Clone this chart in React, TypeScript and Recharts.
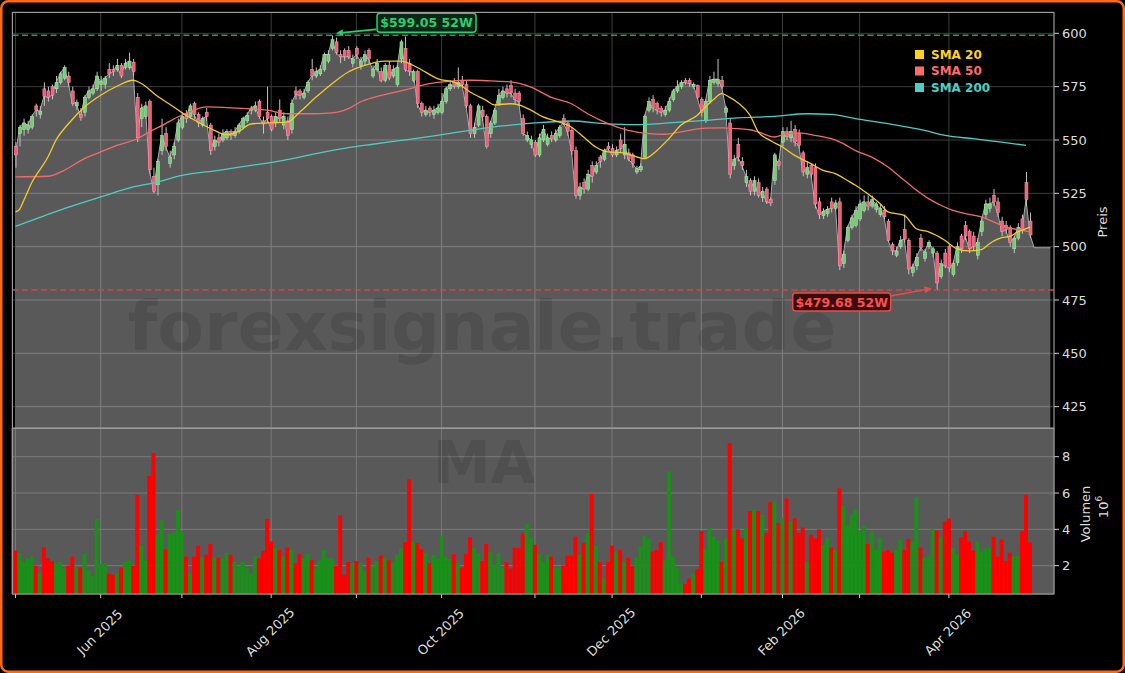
import React from 'react'
import { ComposedChart, Area, Line, Bar, Cell, XAxis, YAxis, CartesianGrid, ReferenceLine, ReferenceDot } from 'recharts'

const W = 1125
const H = 673
const FONT = '"DejaVu Sans", Verdana, sans-serif'

const MONTH_TICKS = [0, 21, 41, 63, 84, 105, 128, 147, 169, 189, 208, 230]
const MONTH_LABELS = ['', 'Jun 2025', '', 'Aug 2025', '', 'Oct 2025', '', 'Dec 2025', '', 'Feb 2026', '', 'Apr 2026']
const PRICE_TICKS = [425, 450, 475, 500, 525, 550, 575, 600]
const VOLUME_TICKS = [2, 4, 6, 8]

// daily candles, index 0 = first trading day of May 2025
const OPEN = [
  547, 553, 555, 555, 556, 566, 562, 574, 573, 575,
  574, 577, 579, 580, 573, 566, 562, 563, 570, 572,
  574, 576, 576, 583, 583, 583, 585, 584, 584, 586.5,
  570, 560, 561, 568, 533, 529, 545, 553, 539, 543,
  550, 556, 562, 561, 567, 562, 557, 563, 557, 547,
  551, 550, 551, 554, 552, 554, 556, 559, 564, 564,
  568, 559, 563, 561, 558, 564, 557, 559, 555, 573,
  573, 570, 573, 583, 580, 581, 583, 587, 593, 596,
  590, 592, 592, 586, 593, 585, 587, 592, 580, 583,
  582, 578, 585, 580, 576, 588, 593, 586, 578, 582,
  567, 562, 565, 562, 563, 563, 568, 574, 577, 575,
  578, 576, 566, 553, 557, 564, 561, 553, 558, 567,
  570, 574, 575.5, 572, 572, 560, 550, 548, 549, 543,
  550, 548, 552, 550, 552, 560, 558, 554.5, 545, 524,
  530, 527, 538, 535, 542, 541, 547, 546, 543, 550,
  543, 544, 543, 535, 536, 542, 564, 569, 567, 565,
  562, 564, 569, 573, 575, 578, 578, 575, 575.5, 569,
  559, 568, 577, 576.5, 578, 563, 558, 538, 548, 540,
  530, 531, 526, 530, 523, 527, 522, 531, 540, 549,
  554, 551, 555, 553, 544, 534, 538, 537, 521, 514.5,
  515.5, 521, 518, 521, 492, 503, 509, 510, 513, 517,
  521, 519, 517.5, 515, 517, 512, 501, 496, 500, 508,
  503, 488, 491, 504, 494.5, 500, 497, 497, 486, 497,
  500, 487, 492.5, 505, 510, 507, 505, 496, 507, 515,
  518, 524, 521, 512, 510, 509, 499, 504, 513, 530,
  512,
]
const HIGH = [
  549, 557, 560, 559, 562, 567, 566, 577, 575, 576,
  580, 582, 585, 582, 575, 569, 565, 571, 575, 576,
  582, 580, 580, 586, 585, 588, 586, 588, 591, 588,
  572, 567, 568, 569, 537, 541, 560, 556, 545, 549,
  560, 563, 564, 567, 568, 563, 561, 565, 558, 552,
  553, 555, 555, 555, 556, 558, 561, 563, 566, 568,
  569, 561, 575, 562, 563, 569, 563, 561, 569, 575,
  574, 574, 578, 588, 584, 585, 591, 592, 599.05, 598,
  592, 593, 594, 590, 594, 589, 592, 593, 585, 588,
  584, 586, 587, 585, 585, 597, 598.5, 588, 583, 583,
  568, 566, 566, 566, 567, 572, 575, 578, 579, 584,
  580, 578, 567, 558, 567, 566, 562, 559, 565, 574,
  575, 576, 578, 574, 573, 562, 554, 552, 550, 553,
  557, 553, 554, 555, 557, 562, 559, 556, 547, 530,
  532, 536, 540, 540, 543, 546, 549, 548, 547, 553,
  556, 546, 544, 538, 539, 562, 570, 571, 568, 566,
  566, 570, 574, 578, 578, 579, 579, 577, 576, 570,
  569, 580, 582, 588, 580, 566, 560, 543, 551, 542,
  536, 532, 533, 532, 528, 528, 523, 544, 541, 556,
  556, 559, 557, 555, 545, 540, 539, 539, 523, 518,
  519, 523, 522, 523, 498, 510, 515, 519, 522, 524,
  524, 524, 521, 520, 519, 513, 502, 500, 505, 515,
  504, 492, 497, 506, 499, 503, 500, 498, 494, 499,
  501, 493, 502, 506, 512, 508, 507, 504, 514, 522,
  523, 527, 523, 514, 512, 510, 505, 511, 515, 535,
  516,
]
const LOW = [
  537, 547, 552, 553, 555, 561, 560, 566, 568, 569,
  572, 576, 578, 575, 566, 564, 559, 561, 569, 571,
  573, 573, 574, 579, 580, 582, 579, 583, 583, 580,
  549, 556, 560, 534, 525, 524, 543, 545, 537, 541,
  549, 555, 558, 560, 560, 556, 556, 559, 543, 545,
  547, 549, 550, 550, 551, 553, 555, 558, 562, 563,
  560, 553, 558, 554, 556, 558, 555, 550, 553, 569,
  569, 569, 572, 578, 579, 580, 582, 586, 592, 590,
  586, 587, 588, 584, 588, 583, 585, 586, 579, 582,
  577, 577, 578, 579, 575, 586, 582, 580, 577, 565,
  561, 561, 561, 560, 562, 562, 567, 573, 574, 574,
  575, 565, 551, 551, 556, 559, 546, 551, 557, 566,
  569, 570, 570, 567, 566, 552, 549, 546, 542, 542,
  549, 547, 549, 549, 551, 557, 552, 543, 522.5, 522,
  525, 526, 530, 534, 537, 540, 545, 542, 542, 544,
  541, 540, 537, 534, 535, 541, 563, 563, 562, 561,
  561, 563, 568, 572, 574, 576, 575, 574, 569, 561,
  558, 567, 576, 575, 574, 561, 532, 536, 540, 536,
  528, 524, 524, 523, 521, 520, 519, 529, 536, 547,
  550, 549, 547, 546, 533, 532, 532, 518, 513, 513,
  514, 516, 517, 489, 490, 502, 508, 509, 512, 516,
  517, 518, 516, 514, 513, 502, 496, 495, 499, 502,
  487, 486, 489, 498, 493, 499, 495, 479.68, 485, 490,
  488, 486, 491, 497, 503, 497, 498, 494, 505, 513,
  516, 519, 514, 505, 506, 500, 497, 503, 506, 519,
  504,
]
const CLOSE = [
  543, 556, 558, 557, 561, 564, 563.5, 570.5, 570, 571,
  577, 581, 584, 577, 567, 567.5, 560.5, 570, 573, 574,
  580, 577.5, 579, 581, 582, 585, 580, 586, 587, 582,
  551, 565, 566, 536, 526, 540, 552, 547, 542, 547,
  558, 561, 560, 566, 562, 558, 560, 561, 545, 550,
  549, 553, 554, 552, 554, 557, 560, 561.5, 565, 566,
  561, 557.5, 560, 555, 561, 560, 561, 552, 567, 571.5,
  571, 572, 577, 580, 582, 583, 590, 590, 597, 591,
  589, 589, 589, 588, 590, 587, 590, 588, 583, 586,
  578, 585, 579, 583, 584, 596, 583, 582, 582, 567,
  563, 564, 563, 564, 565, 568, 574, 576, 575, 577,
  576, 566, 553, 556, 566, 561, 547, 558, 564, 571,
  573, 572, 572, 569, 568, 553, 552, 550, 543, 551,
  555, 551, 550.5, 553, 556, 558, 554, 545, 524, 528,
  527, 534, 533, 538, 540, 545, 546, 543, 545, 546,
  548, 541, 539, 536.5, 537.5, 561, 568, 565, 564, 563,
  564, 568, 573, 575, 577, 577, 576.5, 576, 570, 563,
  568, 578, 578.5, 578.5, 575, 565, 534, 541, 542, 538,
  533, 526, 531, 524, 526, 521, 520.5, 543, 538, 554,
  551.5, 554, 549, 547.5, 535, 537, 534, 520, 515, 516.5,
  517.5, 518, 520.5, 491, 496.5, 509, 513.5, 517, 520, 521,
  519, 522, 520, 518, 514, 503, 498, 498, 503, 503.5,
  489.5, 490.5, 495, 499.5, 497.5, 502, 499, 483, 492, 491,
  490, 492, 500, 499, 505, 499, 500, 502, 512, 520,
  520, 521, 516, 507, 508, 502, 504, 509, 508, 522,
  505.5,
]
// volume in millions
const VOLUME = [
  2.83, 2.7, 2.2, 2.4, 2.5, 2.0, 1.6, 3.0, 2.4, 2.26,
  2.1, 2.2, 1.85, 2.0, 2.5, 1.9, 1.9, 2.65, 1.75, 1.45,
  4.57, 2.1, 2.1, 1.57, 1.5, 1.57, 1.9, 2.2, 2.3, 2.0,
  5.9, 3.1, 2.3, 6.94, 8.2, 3.67, 4.5, 2.9, 3.76, 3.8,
  5.06, 3.9, 2.5, 1.57, 2.5, 3.1, 2.46, 2.6, 3.2, 2.44,
  2.44, 2.4, 2.7, 2.6, 2.2, 2.0, 2.2, 1.85, 1.57, 2.5,
  2.4, 2.8, 4.57, 3.33, 3.0, 2.87, 2.5, 3.0, 2.9, 2.13,
  2.63, 2.4, 2.65, 2.3, 1.85, 2.3, 2.87, 2.4, 2.4, 2.0,
  4.76, 1.5, 2.2, 2.13, 2.26, 2.13, 1.7, 2.44, 2.0, 2.26,
  2.55, 2.4, 2.3, 2.2, 2.6, 2.96, 3.3, 6.76, 3.3, 3.24,
  2.9, 2.72, 2.13, 2.6, 2.4, 3.67, 2.5, 2.37, 2.63, 2.13,
  1.9, 2.63, 3.56, 3.0, 2.7, 2.26, 3.2, 2.78, 2.07, 2.7,
  1.9, 2.2, 1.85, 3.0, 2.96, 3.76, 4.3, 3.5, 3.15, 2.63,
  2.2, 2.6, 2.5, 1.9, 1.85, 2.0, 2.55, 2.55, 3.6, 2.6,
  3.24, 3.83, 5.96, 3.1, 2.2, 1.3, 2.2, 3.1, 2.72, 2.87,
  2.2, 2.44, 2.0, 2.44, 3.05, 3.65, 3.5, 2.78, 2.87, 3.3,
  2.3, 7.2, 2.5, 1.85, 1.0, 1.0, 1.3, 1.57, 1.8, 3.9,
  2.9, 4.07, 3.6, 3.37, 2.2, 3.5, 8.74, 4.0, 4.0, 3.5,
  4.1, 5.0, 5.1, 5.0, 4.8, 3.8, 5.5, 5.5, 4.35, 4.6,
  5.7, 4.45, 4.6, 3.8, 4.1, 2.2, 3.7, 3.5, 4.0, 3.15,
  3.56, 3.0, 2.87, 6.26, 5.28, 4.17, 4.8, 5.1, 3.9, 4.2,
  3.2, 3.9, 2.87, 3.56, 2.78, 2.87, 2.72, 2.87, 3.43, 2.87,
  3.46, 3.3, 5.78, 3.0, 2.44, 2.5, 4.0, 3.93, 3.6, 4.44,
  4.6, 2.96, 2.6, 3.57, 3.9, 3.33, 2.83, 3.33, 2.78, 2.96,
  3.0, 3.6, 2.5, 3.43, 2.26, 2.72, 2.5, 2.54, 3.9, 5.9,
  3.28,
]
// flat tail of the filled close area after the last session
const AREA_TAIL = [499.5, 499.5, 499.5, 499.5, 499.5]

// moving averages, [index, value]
const SMA20 = [
  [0, 516.3], [1, 517.5], [2, 521.5], [4, 530], [8, 542], [10, 550], [13, 557.5], [17, 565.5], [21, 571],
  [25, 575.2], [29, 578], [31, 576.5], [35, 570.5], [39, 565.5], [42, 561.6], [45, 558.4], [49, 554.5],
  [52, 552.5], [55, 554], [58, 557.5], [62, 558], [67, 558.4], [70, 563], [74, 570], [78, 576.4], [82, 581.9],
  [86, 585], [91, 587], [95, 587], [99, 584], [104, 578.8], [109, 576.4], [112, 572.5], [116, 568.6],
  [118, 566.5], [122, 567], [124, 566.5], [127, 564], [130, 560.8], [133, 559], [137, 556], [140, 551.4],
  [143, 546.7], [146, 544.4], [150, 544], [152, 542.8], [155, 541.3], [158, 545], [161, 550.6], [164, 557],
  [168, 561.6], [170, 565.5], [172, 569], [174, 571.7], [176, 570], [178, 567.5], [181, 561.6], [183, 553.8],
  [186, 549.8], [189, 546.7], [192, 542.8], [196, 538.9], [199, 535.8], [202, 534.2], [205, 531], [207, 528.8],
  [210, 524.8], [213, 520.2], [215, 516.3], [219, 514.7], [222, 508.4], [225, 506.9], [229, 503], [232, 499],
  [235, 498], [238, 498.6], [240, 501.4], [243, 504.2], [245, 504.8], [247, 506.9], [250, 509.2],
]
const SMA50 = [
  [0, 532.7], [8, 533], [12, 535.8], [17, 541.3], [21, 544.4], [25, 547.5], [30, 550.6], [33, 553.8],
  [37, 557.7], [40, 560.8], [44, 564], [47, 565.5], [52, 565.2], [57, 564.7], [62, 564], [67, 562.3],
  [72, 562.3], [78, 562.7], [82, 564.7], [85, 567.8], [88, 569.8], [92, 571.7], [97, 574], [102, 576.4],
  [107, 577.5], [112, 578], [117, 577.7], [122, 577.2], [127, 574.8], [132, 570], [137, 567], [141, 562.3],
  [146, 557.7], [151, 554.5], [156, 553], [160, 552.7], [165, 554.2], [170, 555.6], [174, 555.7],
  [178, 555.3], [181, 554.8], [183, 553.8], [187, 551.4], [190, 553], [193, 553.3], [197, 552.2],
  [201, 550.6], [204, 548.3], [207, 545], [211, 542], [215, 537.3], [218, 532.7], [221, 528], [225, 522.5],
  [228, 519.4], [231, 517], [234, 515.5], [238, 514], [241, 511.6], [244, 509.2], [248, 507.7], [250, 506.9],
]
const SMA200 = [
  [0, 509.5], [5, 513], [12, 517.8], [21, 523.3], [29, 528], [35, 530.3], [41, 533.4], [50, 535.8],
  [58, 538.1], [66, 540.5], [74, 543.6], [82, 546.4], [88, 548], [95, 549.8], [104, 552.2], [112, 554.5],
  [120, 556.6], [128, 558], [137, 558.9], [145, 557.7], [153, 557.2], [161, 558], [170, 559.2], [178, 560.4],
  [187, 561.1], [195, 562.3], [201, 562], [207, 560], [215, 557.7], [224, 554.5], [229, 552.2], [236, 550.6],
  [243, 549], [249, 547.5],
]

const HIGH_52W = { i: 78, value: 599.05, label: '$599.05 52W' }
const LOW_52W = { i: 227, value: 479.68, label: '$479.68 52W' }

const SMA20_COLOR = '#f2cc2c'
const SMA50_COLOR = '#f26b6b'
const SMA200_COLOR = '#4ecdc4'
const LEGEND = [
  { label: 'SMA 20', color: '#ffd21f' },
  { label: 'SMA 50', color: '#ff6b6b' },
  { label: 'SMA 200', color: SMA200_COLOR },
]

const TICK_FILL = '#dddddd'
const X_DOMAIN = [-0.86, 255.9]

const toMap = (pts: number[][]) => new Map(pts.map(([i, v]) => [i, v]))
const s20 = toMap(SMA20)
const s50 = toMap(SMA50)
const s200 = toMap(SMA200)

const n = CLOSE.length
const rows = Array.from({ length: n + AREA_TAIL.length }, (_, i) => {
  const inData = i < n
  return {
    i,
    o: inData ? OPEN[i] : null,
    h: inData ? HIGH[i] : null,
    l: inData ? LOW[i] : null,
    c: inData ? CLOSE[i] : AREA_TAIL[i - n],
    range: inData ? [LOW[i], HIGH[i]] : null,
    v: inData ? VOLUME[i] : null,
    up: inData ? CLOSE[i] >= OPEN[i] : true,
    s20: s20.get(i) ?? null,
    s50: s50.get(i) ?? null,
    s200: s200.get(i) ?? null,
  }
})
const volRows = rows.slice(0, n)

function Candle(props: any) {
  const { x, y, width, height, payload } = props
  if (!payload || payload.o == null) return <g />
  const { o, h, l, c } = payload
  const top = Math.min(y, y + height)
  const span = Math.abs(height)
  const py = (v: number) => top + ((h - v) / (h - l || 1)) * span
  const up = c >= o
  const cx = x + width / 2
  const bTop = py(Math.max(o, c))
  const bBot = py(Math.min(o, c))
  return (
    <g>
      <line x1={cx} x2={cx} y1={top} y2={top + span} stroke="#c4c4c4" strokeWidth={1} />
      <rect
        x={x}
        y={bTop}
        width={width}
        height={Math.max(bBot - bTop, 1)}
        fill={up ? '#78cc78' : '#ee5f7c'}
        stroke={up ? '#b6ecb6' : '#ff9db0'}
        strokeWidth={0.5}
      />
    </g>
  )
}

function arrow(x1: number, y1: number, x2: number, y2: number, color: string) {
  const a = Math.atan2(y2 - y1, x2 - x1)
  const len = 7
  const w = 3.5
  const bx = x2 - len * Math.cos(a)
  const by = y2 - len * Math.sin(a)
  const px = -Math.sin(a) * w
  const py = Math.cos(a) * w
  return (
    <g>
      <line x1={x1} y1={y1} x2={bx} y2={by} stroke={color} strokeWidth={1.6} />
      <polygon points={`${x2},${y2} ${bx + px},${by + py} ${bx - px},${by - py}`} fill={color} />
    </g>
  )
}

function HighTag(props: any) {
  const { cx, cy } = props
  const color = '#2ecc71'
  return (
    <g>
      {arrow(cx + 44, cy - 6, cx + 4, cy - 2, color)}
      <rect x={cx + 45} y={cy - 22} width={99} height={19} rx={3} fill="#0c2616" stroke={color} strokeWidth={1.5} />
      <text x={cx + 94.5} y={cy - 12.5} textAnchor="middle" dominantBaseline="central" fill={color}
        fontSize={12.5} fontWeight="bold" fontFamily={FONT}>{HIGH_52W.label}</text>
    </g>
  )
}

function LowTag(props: any) {
  const { cx, cy } = props
  const color = '#e74c4c'
  return (
    <g>
      {arrow(cx - 46, cy + 6, cx - 5, cy - 1.5, color)}
      <rect x={cx - 144} y={cy + 3} width={98} height={18} rx={3} fill="#3a0d0d" stroke={color} strokeWidth={1.5} />
      <text x={cx - 95} y={cy + 12} textAnchor="middle" dominantBaseline="central" fill="#ff4f4f"
        fontSize={12.5} fontWeight="bold" fontFamily={FONT}>{LOW_52W.label}</text>
    </g>
  )
}

function MonthTick(props: any) {
  const { x, y, payload } = props
  const label = MONTH_LABELS[MONTH_TICKS.indexOf(payload.value)]
  if (!label) return <g />
  const cx = x - 1
  const cy = y + 32
  return (
    <text x={cx} y={cy} transform={`rotate(-45 ${cx} ${cy})`} textAnchor="middle" dominantBaseline="central"
      fill={TICK_FILL} fontSize={13} fontFamily={FONT}>{label}</text>
  )
}

const yTick = { fill: TICK_FILL, fontSize: 13, fontFamily: FONT }

export default function App() {
  return (
    <div style={{ position: 'fixed', left: 0, top: 0, width: W, height: H, background: '#000', overflow: 'hidden', fontFamily: FONT }}>
      <div style={{ position: 'absolute', left: 0, top: 0 }}>
        <ComposedChart width={W} height={430} data={rows} margin={{ top: 12, right: 0, left: 12, bottom: 2 }}>
          <XAxis type="number" dataKey="i" domain={X_DOMAIN} ticks={MONTH_TICKS} allowDataOverflow hide />
          <YAxis orientation="right" width={71} domain={[415, 610]} ticks={PRICE_TICKS} allowDataOverflow
            axisLine={false} tickLine={{ stroke: '#d0d0d0' }} tickSize={5} tickMargin={3} tick={yTick} />
          <CartesianGrid stroke="#3c3c3c" />
          <Area type="linear" dataKey="c" stroke="#ababab" strokeWidth={1} fill="rgba(255,255,255,0.35)"
            fillOpacity={1} isAnimationActive={false} dot={false} activeDot={false} />
          <Line type="monotone" dataKey="s200" stroke={SMA200_COLOR} strokeWidth={1.3} dot={false} connectNulls isAnimationActive={false} />
          <Line type="monotone" dataKey="s50" stroke={SMA50_COLOR} strokeWidth={1.3} dot={false} connectNulls isAnimationActive={false} />
          <Line type="monotone" dataKey="s20" stroke={SMA20_COLOR} strokeWidth={1.3} dot={false} connectNulls isAnimationActive={false} />
          <Bar dataKey="range" barSize={3} shape={Candle} isAnimationActive={false} />
          <ReferenceLine y={HIGH_52W.value} stroke="#2f9a5a" strokeDasharray="6 3.5" strokeWidth={1.5} />
          <ReferenceLine y={LOW_52W.value} stroke="#d04848" strokeDasharray="6 3.5" strokeWidth={1.5} />
          <ReferenceDot x={HIGH_52W.i} y={HIGH_52W.value} r={0} shape={HighTag} />
          <ReferenceDot x={LOW_52W.i} y={LOW_52W.value} r={0} shape={LowTag} />
        </ComposedChart>
      </div>
      <div style={{ position: 'absolute', left: 0, top: 428 }}>
        <ComposedChart width={W} height={245} data={volRows} margin={{ top: 0, right: 0, left: 12, bottom: 0 }}>
          <XAxis type="number" dataKey="i" domain={X_DOMAIN} ticks={MONTH_TICKS} allowDataOverflow height={79}
            interval={0} axisLine={false} tickLine={{ stroke: '#d0d0d0' }} tickSize={4} tick={<MonthTick />} />
          <YAxis orientation="right" width={71} domain={[0.44, 9.58]} ticks={VOLUME_TICKS} allowDataOverflow
            axisLine={false} tickLine={{ stroke: '#d0d0d0' }} tickSize={5} tickMargin={3} tick={yTick} />
          <CartesianGrid fill="#595959" fillOpacity={1} stroke="#7a7a7a" />
          <Bar dataKey="v" barSize={4} isAnimationActive={false}>
            {volRows.map((r) => (
              <Cell key={r.i} fill={r.up ? '#1a8f1a' : '#ff0000'} />
            ))}
          </Bar>
        </ComposedChart>
      </div>
      <svg width={W} height={H} style={{ position: 'absolute', left: 0, top: 0, pointerEvents: 'none' }}>
        <text x={482} y={350} textAnchor="middle" fontSize={68} fontWeight="bold" fontFamily={FONT} fill="rgba(0,0,0,0.11)">forexsignale.trade</text>
        <text x={484} y={483} textAnchor="middle" fontSize={58} fontWeight="bold" fontFamily={FONT} fill="rgba(0,0,0,0.11)">MA</text>
        <rect x={12.5} y={12.5} width={1041.5} height={415.5} fill="none" stroke="#9a9a9a" strokeWidth={1} />
        <rect x={12.5} y={428.5} width={1041.5} height={165.5} fill="none" stroke="#9a9a9a" strokeWidth={1} />
        {LEGEND.map((d, k) => (
          <g key={d.label}>
            <rect x={915} y={50 + k * 16.5} width={9} height={9} fill={d.color} />
            <text x={931} y={58.5 + k * 16.5} fontSize={12} fontWeight="bold" fontFamily={FONT} fill={d.color}>{d.label}</text>
          </g>
        ))}
        <text x={1107} y={222} transform="rotate(-90 1107 222)" textAnchor="middle" fontSize={13} fontFamily={FONT} fill={TICK_FILL}>Preis</text>
        <text x={1090} y={514} transform="rotate(-90 1090 514)" textAnchor="middle" fontSize={13} fontFamily={FONT} fill={TICK_FILL}>Volumen</text>
        <text x={1108} y={507} transform="rotate(-90 1108 507)" textAnchor="middle" fontSize={13} fontFamily={FONT} fill={TICK_FILL}>
          10<tspan fontSize={9} dy={-6}>6</tspan>
        </text>
        <rect x={1.25} y={1.25} width={W - 2.5} height={H - 2.5} rx={7} fill="none" stroke="#ff6a10" strokeWidth={2.5} />
      </svg>
    </div>
  )
}
